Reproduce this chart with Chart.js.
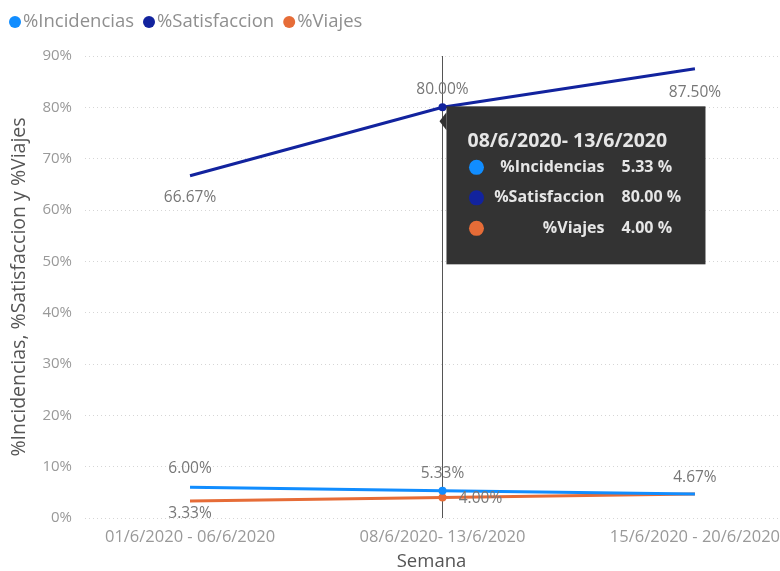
<!DOCTYPE html>
<html>
<head>
<meta charset="utf-8">
<script src="https://cdn.jsdelivr.net/npm/chart.js@4/dist/chart.umd.min.js"></script>
<style>
  html, body { margin: 0; padding: 0; background: #fff; }
  #wrap { width: 780px; height: 571px; position: relative; }
</style>
</head>
<body>
<div id="wrap"><canvas id="c" width="780" height="571"></canvas></div>
<script>
// ---- data ----
const weeks = ["01/6/2020 - 06/6/2020", "08/6/2020- 13/6/2020", "15/6/2020 - 20/6/2020"];
const seriesNames = ["%Incidencias", "%Satisfaccion", "%Viajes"];
const incidencias = [6.00, 5.33, 4.67];
const satisfaccion = [66.67, 80.00, 87.50];
const viajes = [3.33, 4.00, 4.67];
const yTicks = [0, 10, 20, 30, 40, 50, 60, 70, 80, 90];

// ---- style ----
const FONT = "'Open Sans', 'Noto Sans', sans-serif";
const colors = ["#118DFF", "#12239E", "#E66C37"];
const hoverIndex = 1;
// data label placement per series/point: [dx, dy] relative to point, null = hidden
const labelPlace = [
  [[0, -19], [0, -17], [0, -16]],
  [[0, 22], [0, -18], [0, 24]],
  [[0, 13], [38, 1], null]
];

function pts(arr) { return arr.map((v, i) => ({ x: i, y: v })); }

const allSeries = [incidencias, satisfaccion, viajes];

const legendPlugin = {
  id: 'customLegend',
  afterDraw(chart) {
    const ctx = chart.ctx;
    ctx.save();
    ctx.font = "18.5px " + FONT;
    ctx.textBaseline = "middle";
    ctx.textAlign = "left";
    let x = 15;
    const y = 22;
    chart.data.datasets.forEach((ds, i) => {
      ctx.fillStyle = ds.borderColor;
      ctx.beginPath();
      ctx.arc(x, y, 6, 0, Math.PI * 2);
      ctx.fill();
      ctx.fillStyle = "#8f8f8f";
      ctx.fillText(ds.label, x + 8, y);
      x = x + 8 + ctx.measureText(ds.label).width + 15;
    });
    ctx.restore();
  }
};

const dataLabelPlugin = {
  id: 'dataLabels',
  afterDatasetsDraw(chart) {
    const ctx = chart.ctx;
    ctx.save();
    ctx.font = "15.5px " + FONT;
    ctx.fillStyle = "#777";
    ctx.textAlign = "center";
    ctx.textBaseline = "middle";
    chart.data.datasets.forEach((ds, di) => {
      const meta = chart.getDatasetMeta(di);
      meta.data.forEach((el, i) => {
        const p = labelPlace[di][i];
        if (!p) return;
        ctx.fillText(allSeries[di][i].toFixed(2) + "%", el.x + p[0], el.y + p[1]);
      });
    });
    ctx.restore();
  }
};

const crosshairPlugin = {
  id: 'crosshair',
  beforeDatasetsDraw(chart) {
    const ctx = chart.ctx;
    const x = chart.scales.x.getPixelForValue(hoverIndex);
    ctx.save();
    ctx.strokeStyle = "#555";
    ctx.lineWidth = 1;
    ctx.beginPath();
    ctx.moveTo(Math.round(x) + 0.5, chart.chartArea.top);
    ctx.lineTo(Math.round(x) + 0.5, chart.chartArea.bottom);
    ctx.stroke();
    ctx.restore();
  }
};

const tooltipPlugin = {
  id: 'fakeTooltip',
  afterDraw(chart) {
    const ctx = chart.ctx;
    const px = chart.scales.x.getPixelForValue(hoverIndex);
    const py = chart.scales.y.getPixelForValue(satisfaccion[hoverIndex]);
    const left = px + 4, top = py - 1, w = 259, h = 158;
    ctx.save();
    ctx.fillStyle = "#333333";
    ctx.fillRect(left, top, w, h);
    // arrow
    ctx.beginPath();
    ctx.moveTo(left, top + 6);
    ctx.lineTo(left - 7, top + 15);
    ctx.lineTo(left, top + 24);
    ctx.closePath();
    ctx.fill();
    // title
    ctx.fillStyle = "#e6e6e6";
    ctx.font = "bold 19.5px " + FONT;
    ctx.textAlign = "left";
    ctx.textBaseline = "middle";
    ctx.fillText(weeks[hoverIndex], left + 21, top + 35);
    // rows
    for (let i = 0; i < seriesNames.length; i++) {
      const ry = top + 61 + i * 30.5;
      ctx.fillStyle = colors[i];
      ctx.beginPath();
      ctx.arc(left + 30, ry, 7.5, 0, Math.PI * 2);
      ctx.fill();
      ctx.fillStyle = "#e6e6e6";
      ctx.font = "bold 16px " + FONT;
      ctx.textAlign = "right";
      ctx.fillText(seriesNames[i], left + 158, ry);
      ctx.textAlign = "left";
      ctx.fillText(allSeries[i][hoverIndex].toFixed(2) + " %", left + 175, ry);
    }
    ctx.restore();
  }
};

const datasets = seriesNames.map((name, i) => ({
  label: name,
  data: pts(allSeries[i]),
  borderColor: colors[i],
  backgroundColor: colors[i],
  borderWidth: 3,
  pointRadius: (c) => c.dataIndex === hoverIndex ? 4 : 0,
  pointBorderWidth: 0,
  pointStyle: 'circle',
  tension: 0
}));
// draw satisfaction on top
datasets[0].order = 2; datasets[2].order = 3; datasets[1].order = 1;

new Chart(document.getElementById('c'), {
  type: 'line',
  data: { datasets },
  plugins: [crosshairPlugin, dataLabelPlugin, tooltipPlugin, legendPlugin],
  options: {
    responsive: false,
    animation: false,
    devicePixelRatio: 1,
    layout: { padding: { top: 56, left: 9, right: 2, bottom: 0 } },
    plugins: {
      tooltip: { enabled: false },
      legend: { display: false }
    },
    scales: {
      x: {
        type: 'linear',
        min: -0.416,
        max: 2.329,
        afterBuildTicks: (s) => { s.ticks = weeks.map((_, i) => ({ value: i })); },
        afterFit: (s) => { s.height = 571 - 518; s.paddingLeft = 0; s.paddingRight = 0; },
        grid: { display: false },
        border: { display: false },
        ticks: {
          color: "#999",
          font: { family: FONT, size: 16.5 },
          padding: 1,
          maxRotation: 0,
          autoSkip: false,
          callback: (v) => weeks[v] ?? ""
        },
        title: {
          display: true,
          text: "Semana",
          color: "#555",
          font: { family: FONT, size: 18.5, lineHeight: 1.0 },
          padding: { top: 0, bottom: 0 }
        }
      },
      y: {
        min: 0,
        max: 90,
        afterBuildTicks: (s) => { s.ticks = yTicks.map(v => ({ value: v })); },
        afterFit: (s) => { s.width = 85 - 9; },
        grid: {
          color: "#d6d6d6",
          lineWidth: 1,
          drawTicks: false
        },
        border: { display: false, dash: [1, 3] },
        ticks: {
          color: "#999",
          font: { family: FONT, size: 15 },
          padding: 13,
          callback: (v) => v + "%"
        },
        title: {
          display: true,
          text: "%Incidencias, %Satisfaccion y %Viajes",
          color: "#555",
          font: { family: FONT, size: 19.5, lineHeight: 1.1 },
          padding: { top: 0, bottom: 0 }
        }
      }
    }
  }
});
</script>
</body>
</html>
